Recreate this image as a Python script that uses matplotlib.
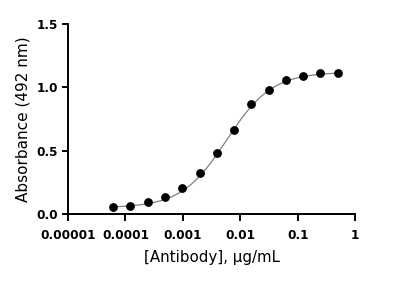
import matplotlib
matplotlib.use('Agg')
import matplotlib.pyplot as plt
import numpy as np

# two-fold dilution series of the antibody, ug/mL
conc = np.array([0.5, 0.25, 0.125, 0.0625, 0.03125, 0.015625, 0.0078125,
                 0.00390625, 0.001953125, 0.0009765625, 0.00048828125,
                 0.000244140625, 0.0001220703125, 0.00006103515625])
absorb = np.array([1.115, 1.113, 1.089, 1.058, 0.981, 0.865, 0.663,
                   0.48, 0.32, 0.205, 0.131, 0.092, 0.065, 0.055])

# 4PL fit parameters
bottom, top, ec50, hill = 0.05, 1.12, 0.0058, 1.1

xticks = [1e-5, 1e-4, 1e-3, 1e-2, 1e-1, 1]
xticklabels = ['0.00001', '0.0001', '0.001', '0.01', '0.1', '1']
yticks = [0.0, 0.5, 1.0, 1.5]
yticklabels = ['0.0', '0.5', '1.0', '1.5']

plt.rcParams['font.family'] = ['DejaVu Sans']

fig = plt.figure(figsize=(4.03, 2.82), dpi=100)
ax = fig.add_axes([0.169, 0.241, 0.712, 0.674])

xfit = np.logspace(np.log10(conc.min()), np.log10(conc.max()), 200)
yfit = bottom + (top - bottom) / (1 + (ec50 / xfit) ** hill)
ax.plot(xfit, yfit, color='#808080', lw=0.9, zorder=2)
ax.plot(conc, absorb, 'o', color='black', ms=5.3, zorder=3)

ax.set_xscale('log')
ax.set_xlim(1e-5, 1)
ax.set_ylim(0, 1.5)
ax.set_xticks(xticks)
ax.set_xticklabels(xticklabels, fontsize=8.7, fontweight='bold')
ax.set_yticks(yticks)
ax.set_yticklabels(yticklabels, fontsize=8.7, fontweight='bold')
ax.minorticks_off()
ax.tick_params(axis='x', direction='out', length=5, width=1.4, pad=5.5)
ax.tick_params(axis='y', direction='out', length=4.5, width=1.4, pad=3)
for s in ['top', 'right']:
    ax.spines[s].set_visible(False)
for s in ['left', 'bottom']:
    ax.spines[s].set_linewidth(1.4)

ax.set_xlabel('[Antibody], µg/mL', fontsize=10.8, labelpad=6)
ax.set_ylabel('Absorbance (492 nm)', fontsize=11, labelpad=4)

fig.savefig('out.png', dpi=100)
